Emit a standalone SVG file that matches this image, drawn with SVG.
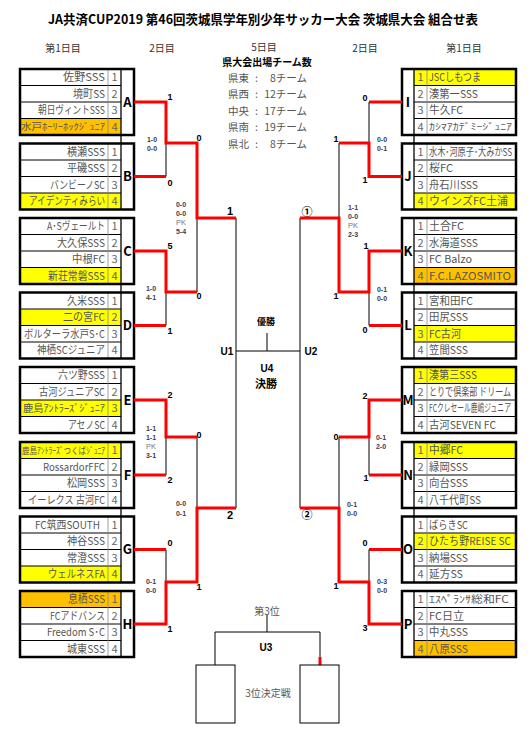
<svg xmlns="http://www.w3.org/2000/svg" xmlns:xlink="http://www.w3.org/1999/xlink" width="531" height="731" viewBox="0 0 531 731">
<style>
text{font-family:"Noto Sans CJK JP","Noto Sans",sans-serif;}
.nm{font-size:11px;fill:#555;}
.sm{font-size:9px;}
.md{font-size:10px;}
.no{font-size:11px;fill:#666;text-anchor:middle;}
.lt{font-size:13px;font-weight:bold;fill:#000;text-anchor:middle;}
.row{stroke:#000;stroke-width:1;}
.dv{stroke:#888;stroke-width:0.8;}
.dv2{stroke:#000;stroke-width:1.3;}
.outer{fill:none;stroke:#000;stroke-width:2.5;}
.y{fill:#FFFF00;}
.o{fill:#FFC000;}
.k{stroke:#000;stroke-width:1;fill:none;}
.r{stroke:#FF0000;stroke-width:3;fill:none;}
.sc{font-family:"Liberation Sans",Arial,sans-serif;font-size:9px;font-weight:bold;fill:#000;text-anchor:middle;}
.sb{font-family:"Liberation Sans",Arial,sans-serif;font-size:11px;font-weight:bold;fill:#000;text-anchor:middle;}
.cn{font-size:11px;font-weight:bold;fill:#000;text-anchor:middle;}
.ms{font-family:"Liberation Sans",Arial,sans-serif;font-size:7px;font-weight:bold;fill:#3b3b4f;text-anchor:middle;}
.pk{font-family:"Liberation Sans",Arial,sans-serif;font-size:7.5px;fill:#777;text-anchor:middle;}
.hd{font-size:10px;fill:#333;text-anchor:middle;}
.st{font-size:10.5px;fill:#555;}
.u{font-family:"Liberation Sans",Arial,sans-serif;font-size:10px;font-weight:bold;fill:#000;text-anchor:middle;}
</style>
<defs>
<g id="frameL">
<line class="row" x1="20" y1="16.5" x2="121" y2="16.5"/>
<line class="row" x1="20" y1="33" x2="121" y2="33"/>
<line class="row" x1="20" y1="49.5" x2="121" y2="49.5"/>
<line class="dv" x1="108" y1="0" x2="108" y2="66"/>
<line class="dv2" x1="121" y1="0" x2="121" y2="66"/>
<rect class="outer" x="20" y="0" width="114" height="66"/>
<text class="no" x="114.5" y="12.25">1</text>
<text class="no" x="114.5" y="28.75">2</text>
<text class="no" x="114.5" y="45.25">3</text>
<text class="no" x="114.5" y="61.75">4</text>
</g>
<g id="frameR">
<line class="row" x1="414" y1="16.5" x2="516" y2="16.5"/>
<line class="row" x1="414" y1="33" x2="516" y2="33"/>
<line class="row" x1="414" y1="49.5" x2="516" y2="49.5"/>
<line class="dv" x1="427" y1="0" x2="427" y2="66"/>
<line class="dv2" x1="414" y1="0" x2="414" y2="66"/>
<rect class="outer" x="402" y="0" width="114" height="66"/>
<text class="no" x="420.5" y="12.25">1</text>
<text class="no" x="420.5" y="28.75">2</text>
<text class="no" x="420.5" y="45.25">3</text>
<text class="no" x="420.5" y="61.75">4</text>
</g>
</defs>
<rect x="0" y="0" width="531" height="731" fill="#fff"/>

<g id="title">
<text x="48" y="24" font-size="13" font-weight="bold" fill="#000" textLength="430" lengthAdjust="spacingAndGlyphs">JA共済CUP2019 第46回茨城県学年別少年サッカー大会 茨城県大会 組合せ表</text>
<text class="hd" x="63" y="52">第1日目</text>
<text class="hd" x="162" y="52">2日目</text>
<text class="hd" x="264" y="50.5">5日目</text>
<text class="hd" x="365" y="52">2日目</text>
<text class="hd" x="464" y="52">第1日目</text>
</g>

<g id="stats">
<text x="267" y="65.5" font-size="10" font-weight="bold" fill="#000" text-anchor="middle">県大会出場チーム数</text>
<text class="st" y="81.5"><tspan x="228">県東</tspan><tspan x="255">:</tspan><tspan x="307" text-anchor="end">8チーム</tspan></text>
<text class="st" y="98"><tspan x="228">県西</tspan><tspan x="255">:</tspan><tspan x="307" text-anchor="end">12チーム</tspan></text>
<text class="st" y="114.5"><tspan x="228">中央</tspan><tspan x="255">:</tspan><tspan x="307" text-anchor="end">17チーム</tspan></text>
<text class="st" y="131"><tspan x="228">県南</tspan><tspan x="255">:</tspan><tspan x="307" text-anchor="end">19チーム</tspan></text>
<text class="st" y="147.5"><tspan x="228">県北</tspan><tspan x="255">:</tspan><tspan x="307" text-anchor="end">8チーム</tspan></text>
</g>

<g id="group-A" transform="translate(0,69)">
<rect class="o" x="20" y="49.5" width="101" height="16.5"/>
<use xlink:href="#frameL"/>
<text class="nm" x="63" y="12.25" textLength="42" lengthAdjust="spacingAndGlyphs">佐野SSS</text>
<text class="nm" x="73" y="28.75" textLength="32" lengthAdjust="spacingAndGlyphs">境町SS</text>
<text class="nm" x="38" y="45.25" textLength="67" lengthAdjust="spacingAndGlyphs">朝日ヴィントSSS</text>
<text class="nm sm" x="21" y="61" textLength="84" lengthAdjust="spacingAndGlyphs">水戸ﾎｰﾘｰﾎｯｸｼﾞｭﾆｱ</text>
<text class="lt" x="127.5" y="37.5">A</text>
</g>
<g id="group-B" transform="translate(0,143.5)">
<rect class="y" x="20" y="49.5" width="101" height="16.5"/>
<use xlink:href="#frameL"/>
<text class="nm" x="67" y="12.25" textLength="38" lengthAdjust="spacingAndGlyphs">横瀬SSS</text>
<text class="nm" x="67" y="28.75" textLength="38" lengthAdjust="spacingAndGlyphs">平磯SSS</text>
<text class="nm" x="50" y="45.25" textLength="55" lengthAdjust="spacingAndGlyphs">バンビーノSC</text>
<text class="nm" x="29" y="61.75" textLength="76" lengthAdjust="spacingAndGlyphs">アイデンティみらい</text>
<text class="lt" x="127.5" y="37.5">B</text>
</g>
<g id="group-C" transform="translate(0,218)">
<rect class="y" x="20" y="49.5" width="101" height="16.5"/>
<use xlink:href="#frameL"/>
<text class="nm" x="47" y="12.25" textLength="58" lengthAdjust="spacingAndGlyphs">A･Sヴェールト</text>
<text class="nm" x="57" y="28.75" textLength="48" lengthAdjust="spacingAndGlyphs">大久保SSS</text>
<text class="nm" x="72" y="45.25" textLength="33" lengthAdjust="spacingAndGlyphs">中根FC</text>
<text class="nm" x="48" y="61.75" textLength="57" lengthAdjust="spacingAndGlyphs">新荘常磐SSS</text>
<text class="lt" x="127.5" y="37.5">C</text>
</g>
<g id="group-D" transform="translate(0,292.5)">
<rect class="y" x="20" y="16.5" width="101" height="16.5"/>
<use xlink:href="#frameL"/>
<text class="nm" x="67" y="12.25" textLength="38" lengthAdjust="spacingAndGlyphs">久米SSS</text>
<text class="nm" x="63" y="28.75" textLength="42" lengthAdjust="spacingAndGlyphs">二の宮FC</text>
<text class="nm" x="24" y="45.25" textLength="81" lengthAdjust="spacingAndGlyphs">ボルターラ水戸S･C</text>
<text class="nm" x="37" y="61.75" textLength="68" lengthAdjust="spacingAndGlyphs">神栖SCジュニア</text>
<text class="lt" x="127.5" y="37.5">D</text>
</g>
<g id="group-E" transform="translate(0,367)">
<rect class="y" x="20" y="33" width="101" height="16.5"/>
<use xlink:href="#frameL"/>
<text class="nm" x="58" y="12.25" textLength="47" lengthAdjust="spacingAndGlyphs">六ツ野SSS</text>
<text class="nm" x="39" y="28.75" textLength="66" lengthAdjust="spacingAndGlyphs">古河ジュニアSC</text>
<text class="nm md" x="23" y="45" textLength="82" lengthAdjust="spacingAndGlyphs">鹿島ｱﾝﾄﾗｰｽﾞｼﾞｭﾆｱ</text>
<text class="nm" x="68" y="61.75" textLength="37" lengthAdjust="spacingAndGlyphs">アセノSC</text>
<text class="lt" x="127.5" y="37.5">E</text>
</g>
<g id="group-F" transform="translate(0,442)">
<rect class="y" x="20" y="0" width="101" height="16.5"/>
<use xlink:href="#frameL"/>
<text class="nm sm" x="22" y="11.5" textLength="83" lengthAdjust="spacingAndGlyphs">鹿島ｱﾝﾄﾗｰｽﾞつくばｼﾞｭﾆｱ</text>
<text class="nm" x="43" y="28.75" textLength="62" lengthAdjust="spacingAndGlyphs">RossardorFFC</text>
<text class="nm" x="67" y="45.25" textLength="38" lengthAdjust="spacingAndGlyphs">松岡SSS</text>
<text class="nm" x="28" y="61.75" textLength="77" lengthAdjust="spacingAndGlyphs">イーレクス 古河FC</text>
<text class="lt" x="127.5" y="37.5">F</text>
</g>
<g id="group-G" transform="translate(0,516.5)">
<rect class="y" x="20" y="49.5" width="101" height="16.5"/>
<use xlink:href="#frameL"/>
<text class="nm" x="35" y="12.25" textLength="65" lengthAdjust="spacingAndGlyphs">FC筑西SOUTH</text>
<text class="nm" x="67" y="28.75" textLength="38" lengthAdjust="spacingAndGlyphs">神谷SSS</text>
<text class="nm" x="67" y="45.25" textLength="38" lengthAdjust="spacingAndGlyphs">常澄SSS</text>
<text class="nm" x="48" y="61.75" textLength="57" lengthAdjust="spacingAndGlyphs">ウェルネスFA</text>
<text class="lt" x="127.5" y="37.5">G</text>
</g>
<g id="group-H" transform="translate(0,591)">
<rect class="o" x="20" y="0" width="101" height="16.5"/>
<use xlink:href="#frameL"/>
<text class="nm" x="68" y="12.25" textLength="37" lengthAdjust="spacingAndGlyphs">息栖SSS</text>
<text class="nm" x="50" y="28.75" textLength="55" lengthAdjust="spacingAndGlyphs">FCアドバンス</text>
<text class="nm" x="47" y="45.25" textLength="58" lengthAdjust="spacingAndGlyphs">Freedom S･C</text>
<text class="nm" x="67" y="61.75" textLength="38" lengthAdjust="spacingAndGlyphs">城東SSS</text>
<text class="lt" x="127.5" y="37.5">H</text>
</g>

<g id="group-I" transform="translate(0,69)">
<rect class="y" x="414" y="0" width="102" height="16.5"/>
<use xlink:href="#frameR"/>
<text class="nm" x="429" y="12.25" textLength="52" lengthAdjust="spacingAndGlyphs">JSCしもつま</text>
<text class="nm" x="429" y="28.75" textLength="49" lengthAdjust="spacingAndGlyphs">湊第一SSS</text>
<text class="nm" x="429" y="45.25" textLength="34" lengthAdjust="spacingAndGlyphs">牛久FC</text>
<text class="nm sm" x="429" y="61" textLength="83" lengthAdjust="spacingAndGlyphs">ｶｼﾏｱｶﾃﾞﾐｰｼﾞｭﾆｱ</text>
<text class="lt" x="408" y="37.5">I</text>
</g>
<g id="group-J" transform="translate(0,143.5)">
<rect class="y" x="414" y="49.5" width="102" height="16.5"/>
<use xlink:href="#frameR"/>
<text class="nm" transform="translate(429,12) scale(0.8,1)" font-size="10" textLength="104" lengthAdjust="spacingAndGlyphs">水木･河原子･大みかSS</text>
<text class="nm" x="429" y="28.75" textLength="24" lengthAdjust="spacingAndGlyphs">桜FC</text>
<text class="nm" x="429" y="45.25" textLength="49" lengthAdjust="spacingAndGlyphs">舟石川SSS</text>
<text class="nm" x="429" y="61.75" textLength="79" lengthAdjust="spacingAndGlyphs">ウインズFC土浦</text>
<text class="lt" x="408" y="37.5">J</text>
</g>
<g id="group-K" transform="translate(0,218)">
<rect class="o" x="414" y="49.5" width="102" height="16.5"/>
<use xlink:href="#frameR"/>
<text class="nm" x="429" y="12.25" textLength="35" lengthAdjust="spacingAndGlyphs">土合FC</text>
<text class="nm" x="429" y="28.75" textLength="49" lengthAdjust="spacingAndGlyphs">水海道SSS</text>
<text class="nm" x="429" y="45.25" textLength="43" lengthAdjust="spacingAndGlyphs">FC Balzo</text>
<text class="nm" x="429" y="61.75" textLength="82" lengthAdjust="spacingAndGlyphs">F.C.LAZOSMITO</text>
<text class="lt" x="408" y="37.5">K</text>
</g>
<g id="group-L" transform="translate(0,292.5)">
<rect class="y" x="414" y="33" width="102" height="16.5"/>
<use xlink:href="#frameR"/>
<text class="nm" x="429" y="12.25" textLength="44" lengthAdjust="spacingAndGlyphs">宮和田FC</text>
<text class="nm" x="429" y="28.75" textLength="39" lengthAdjust="spacingAndGlyphs">田尻SSS</text>
<text class="nm" x="429" y="45.25" textLength="32" lengthAdjust="spacingAndGlyphs">FC古河</text>
<text class="nm" x="429" y="61.75" textLength="39" lengthAdjust="spacingAndGlyphs">笠間SSS</text>
<text class="lt" x="408" y="37.5">L</text>
</g>
<g id="group-M" transform="translate(0,367)">
<rect class="y" x="414" y="0" width="102" height="16.5"/>
<use xlink:href="#frameR"/>
<text class="nm" x="429" y="12.25" textLength="48" lengthAdjust="spacingAndGlyphs">湊第三SSS</text>
<text class="nm" transform="translate(429,28.5) scale(0.72,1)" font-size="10.5" textLength="114" lengthAdjust="spacingAndGlyphs">とりで倶楽部 ドリーム</text>
<text class="nm" transform="translate(429,44.5) scale(0.7,1)" font-size="9" textLength="117" lengthAdjust="spacingAndGlyphs">FCクレセール鹿嶋ジュニア</text>
<text class="nm" x="429" y="61.75" textLength="67" lengthAdjust="spacingAndGlyphs">古河SEVEN FC</text>
<text class="lt" x="408" y="37.5">M</text>
</g>
<g id="group-N" transform="translate(0,442)">
<rect class="y" x="414" y="0" width="102" height="16.5"/>
<use xlink:href="#frameR"/>
<text class="nm" x="429" y="12.25" textLength="34" lengthAdjust="spacingAndGlyphs">中郷FC</text>
<text class="nm" x="429" y="28.75" textLength="39" lengthAdjust="spacingAndGlyphs">緑岡SSS</text>
<text class="nm" x="429" y="45.25" textLength="39" lengthAdjust="spacingAndGlyphs">向台SSS</text>
<text class="nm" x="429" y="61.75" textLength="52" lengthAdjust="spacingAndGlyphs">八千代町SS</text>
<text class="lt" x="408" y="37.5">N</text>
</g>
<g id="group-O" transform="translate(0,516.5)">
<rect class="y" x="414" y="16.5" width="102" height="16.5"/>
<use xlink:href="#frameR"/>
<text class="nm" x="429" y="12.25" textLength="39" lengthAdjust="spacingAndGlyphs">ばらきSC</text>
<text class="nm" x="429" y="28.75" textLength="82" lengthAdjust="spacingAndGlyphs">ひたち野REISE SC</text>
<text class="nm" x="429" y="45.25" textLength="39" lengthAdjust="spacingAndGlyphs">納場SSS</text>
<text class="nm" x="429" y="61.75" textLength="34" lengthAdjust="spacingAndGlyphs">延方SS</text>
<text class="lt" x="408" y="37.5">O</text>
</g>
<g id="group-P" transform="translate(0,591)">
<rect class="o" x="414" y="49.5" width="102" height="16.5"/>
<use xlink:href="#frameR"/>
<text class="nm md" x="429" y="12" textLength="80" lengthAdjust="spacingAndGlyphs">ｴｽﾍﾟﾗﾝｻ総和FC</text>
<text class="nm" x="429" y="28.75" textLength="35" lengthAdjust="spacingAndGlyphs">FC日立</text>
<text class="nm" x="429" y="45.25" textLength="39" lengthAdjust="spacingAndGlyphs">中丸SSS</text>
<text class="nm" x="429" y="61.75" textLength="39" lengthAdjust="spacingAndGlyphs">八原SSS</text>
<text class="lt" x="408" y="37.5">P</text>
</g>

<g id="connectors">
<line class="dv2" x1="121" y1="135" x2="121" y2="143.5"/>
<line class="dv2" x1="121" y1="284" x2="121" y2="292.5"/>
<line class="dv2" x1="121" y1="508" x2="121" y2="516.5"/>
<line class="dv2" x1="414" y1="135" x2="414" y2="143.5"/>
<line class="dv2" x1="414" y1="284" x2="414" y2="292.5"/>
<line class="dv2" x1="414" y1="508" x2="414" y2="516.5"/>
<path class="k" d="M166,143V176.5M166,292V325.5M166,437V475M166,549.5V582M197,218V292M197,437V508M236,218V508M236,351H300M267,333V351"/>
<path class="k" d="M369,102V143M369,292V325.5M369,437V475M369,549.5V582M339,143V218M339,437V508M300,218V508"/>
<path class="k" d="M267,615V632M215,632H320M215,632V665M320,632V657"/>
<path class="r" d="M134,102H166V143H197V218H236M134,176.5H166M134,251H166V292H197M134,325.5H166M134,400H166V437H197M134,475H166M134,549.5H166M134,624H166V582H197V508H236"/>
<path class="r" d="M402,102H369M402,176.5H369V143H339M402,251H369V292H339V218H300M402,325.5H369M402,400H369V437H339M402,475H369M402,549.5H369M402,624H369V582H339V508H300"/>
<path class="r" d="M320,657V665"/>
</g>

<g id="node-U3">
<rect class="k" x="196" y="665" width="39" height="58"/>
<rect class="k" x="300" y="665" width="39" height="58"/>
<text x="267" y="615" font-size="10" fill="#555" text-anchor="middle">第3位</text>
<text class="u" x="266" y="651">U3</text>
<text x="268" y="697" font-size="10" fill="#555" text-anchor="middle">3位決定戦</text>
</g>
<g id="node-final">
<text x="266" y="325" font-size="9" font-weight="bold" fill="#000" text-anchor="middle">優勝</text>
<text class="u" x="267" y="372">U4</text>
<text x="266" y="388" font-size="11" font-weight="bold" fill="#000" text-anchor="middle">決勝</text>
<text class="u" x="227" y="355">U1</text>
<text class="u" x="311" y="355">U2</text>
</g>

<g id="labels">
<text class="sc" x="170" y="100">1</text>
<text class="sc" x="170" y="186">0</text>
<text class="sc" x="170" y="249">5</text>
<text class="sc" x="170" y="334">1</text>
<text class="sc" x="170" y="398">2</text>
<text class="sc" x="170" y="483">2</text>
<text class="sc" x="170" y="546">0</text>
<text class="sc" x="170" y="632">1</text>
<text class="sc" x="199" y="141">0</text>
<text class="sc" x="199" y="299">0</text>
<text class="sc" x="199" y="438">0</text>
<text class="sc" x="199" y="590">1</text>
<text class="sb" x="230" y="215">1</text>
<text class="sb" x="230" y="519">2</text>
<text class="sc" x="365" y="101">0</text>
<text class="sc" x="365" y="183">1</text>
<text class="sc" x="366" y="249">1</text>
<text class="sc" x="365" y="333">0</text>
<text class="sc" x="365" y="399">2</text>
<text class="sc" x="366" y="481">1</text>
<text class="sc" x="365" y="546">0</text>
<text class="sc" x="365" y="631">3</text>
<text class="sc" x="336" y="142">1</text>
<text class="sc" x="336" y="299">1</text>
<text class="sc" x="336" y="440">0</text>
<text class="sc" x="336" y="589">1</text>
<text class="cn" x="307" y="216">①</text>
<text class="cn" x="307" y="519">②</text>

<text class="ms" x="152" y="142">1-0</text>
<text class="ms" x="152" y="151">0-0</text>
<text class="ms" x="181" y="207">0-0</text>
<text class="ms" x="181" y="216">0-0</text>
<text class="pk" x="181" y="225">PK</text>
<text class="ms" x="181" y="234">5-4</text>
<text class="ms" x="151" y="291">1-0</text>
<text class="ms" x="151" y="300">4-1</text>
<text class="ms" x="151" y="431">1-1</text>
<text class="ms" x="151" y="440">1-1</text>
<text class="pk" x="151" y="449">PK</text>
<text class="ms" x="151" y="458">3-1</text>
<text class="ms" x="181" y="506">0-0</text>
<text class="ms" x="181" y="516">0-1</text>
<text class="ms" x="151" y="584">0-1</text>
<text class="ms" x="151" y="593">0-0</text>

<text class="ms" x="382" y="142">0-0</text>
<text class="ms" x="382" y="151">0-1</text>
<text class="ms" x="353" y="210">1-1</text>
<text class="ms" x="353" y="219">0-0</text>
<text class="pk" x="353" y="228">PK</text>
<text class="ms" x="353" y="237">2-3</text>
<text class="ms" x="382" y="292">0-1</text>
<text class="ms" x="382" y="301">0-0</text>
<text class="ms" x="381" y="440">0-1</text>
<text class="ms" x="381" y="449">2-0</text>
<text class="ms" x="352" y="507">0-1</text>
<text class="ms" x="352" y="516">0-0</text>
<text class="ms" x="382" y="584">0-3</text>
<text class="ms" x="382" y="593">0-0</text>
</g>
</svg>
